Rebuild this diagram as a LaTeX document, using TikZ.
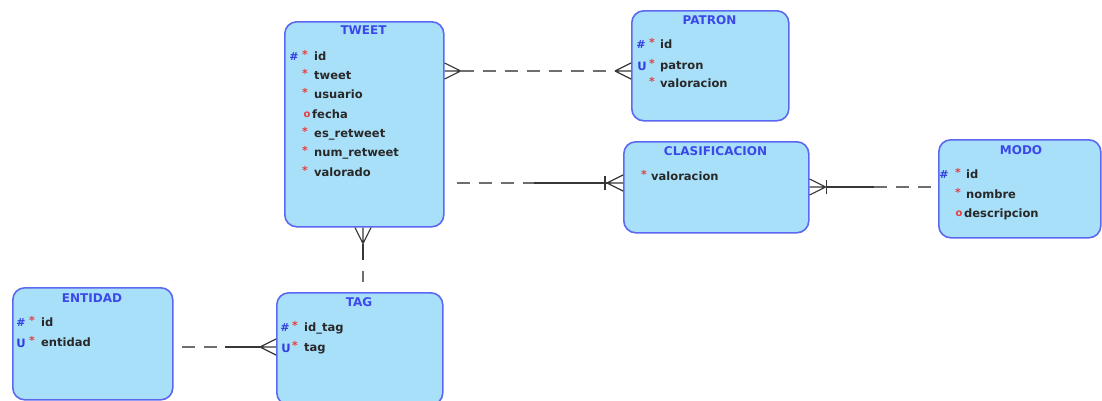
\documentclass[tikz,border=0pt]{standalone}
\usepackage{fontspec}
\setmainfont{DejaVu Sans}
\usetikzlibrary{calc}
\definecolor{boxfill}{RGB}{168,224,250}
\definecolor{boxline}{RGB}{92,104,240}
\definecolor{titleblue}{RGB}{60,72,232}
\definecolor{attrtext}{RGB}{40,40,40}
\definecolor{markred}{RGB}{230,60,60}
\definecolor{markblue}{RGB}{50,60,225}
\definecolor{relgray}{RGB}{110,110,110}
\definecolor{reldark}{RGB}{55,55,55}

% crow's foot: #1 = point on the box edge, (#2,#3) = unit direction away from the box
\newcommand\crowfoot[3]{%
  \draw[footline] ($(#1)+({16*(#2)},{16*(#3)})$) -- ($(#1)+({8*(#3)},{-8*(#2)})$)
    ($(#1)+({16*(#2)},{16*(#3)})$) -- (#1)
    ($(#1)+({16*(#2)},{16*(#3)})$) -- ($(#1)+({-8*(#3)},{8*(#2)})$);}
% single bar across a line: #1 = point on the edge, #2 = distance, (#3,#4) = direction
\newcommand\onebar[4]{%
  \draw[footline] ($(#1)+({(#2)*(#3)+7*(#4)},{(#2)*(#4)-7*(#3)})$) --
    ($(#1)+({(#2)*(#3)-7*(#4)},{(#2)*(#4)+7*(#3)})$);}

\begin{document}
\begin{tikzpicture}[x=1pt,y=-1pt,
  entity/.style={draw=boxline, fill=boxfill, line width=1.6pt, rounded corners=12pt,
    anchor=north west, inner sep=0pt},
  etitle/.style={font=\bfseries\fontsize{12}{13}\selectfont, text=titleblue, inner sep=0pt},
  attr/.style={font=\bfseries\fontsize{11.5}{13}\selectfont, text=attrtext, anchor=west,
    inner sep=0pt, text height=8.5pt, text depth=2.5pt},
  pk/.style={font=\bfseries\fontsize{11}{12}\selectfont, text=markblue, inner sep=0pt},
  uk/.style={font=\bfseries\fontsize{11.5}{12}\selectfont, text=markblue, inner sep=0pt},
  req/.style={font=\bfseries\fontsize{11}{12}\selectfont, text=markred, inner sep=0pt, yshift=2.5pt},
  opt/.style={font=\bfseries\fontsize{10}{12}\selectfont, text=markred, inner sep=0pt},
  reldash/.style={draw=relgray, line width=1.5pt, dash pattern=on 13pt off 9pt},
  relsolid/.style={draw=reldark, line width=1.3pt},
  footline/.style={draw=reldark, line width=1.2pt}]
\useasboundingbox (0,0) rectangle (1102,400);
\clip (0,0) rectangle (1102,400);

% ---------- entities ----------
\node[entity, minimum width=159pt, minimum height=205pt] (tweet) at (284,21) {};
\node[entity, minimum width=157pt, minimum height=110pt] (patron) at (631,10) {};
\node[entity, minimum width=185pt, minimum height=91pt] (clas) at (623,141) {};
\node[entity, minimum width=162pt, minimum height=98pt] (modo) at (938,139) {};
\node[entity, minimum width=160pt, minimum height=112pt] (entidad) at (12,287) {};
\node[entity, minimum width=166pt, minimum height=112pt] (tag) at (276,292) {};

% ---------- TWEET ----------
\node[etitle] (tweetT) at (363.5,30) {TWEET};
\node[pk]  (tw1p) at (294,57) {\#};
\node[req] (tw1r) at (305,57) {*};
\node[attr] (tw1) at (314,57) {id};
\node[req] (tw2r) at (305,76) {*};
\node[attr] (tw2) at (314,76) {tweet};
\node[req] (tw3r) at (305,95) {*};
\node[attr] (tw3) at (314,95) {usuario};
\node[opt] (tw4o) at (307,115) {o};
\node[attr] (tw4) at (312,115) {fecha};
\node[req] (tw5r) at (305,134) {*};
\node[attr] (tw5) at (314,134) {es\_retweet};
\node[req] (tw6r) at (305,153) {*};
\node[attr] (tw6) at (314,153) {num\_retweet};
\node[req] (tw7r) at (305,173) {*};
\node[attr] (tw7) at (314,173) {valorado};

% ---------- PATRON ----------
\node[etitle] (patronT) at (709.5,20) {PATRON};
\node[pk]  (pa1p) at (641,45) {\#};
\node[req] (pa1r) at (652,45) {*};
\node[attr] (pa1) at (660,45) {id};
\node[uk]  (pa2u) at (642,66) {U};
\node[req] (pa2r) at (652,66) {*};
\node[attr] (pa2) at (660,66) {patron};
\node[req] (pa3r) at (652,84) {*};
\node[attr] (pa3) at (660,84) {valoracion};

% ---------- CLASIFICACION ----------
\node[etitle] (clasT) at (715.5,151) {CLASIFICACION};
\node[req] (cl1r) at (644,177) {*};
\node[attr] (cl1) at (651,177) {valoracion};

% ---------- MODO ----------
\node[etitle] (modoT) at (1021,150) {MODO};
\node[pk]  (mo1p) at (944,175) {\#};
\node[req] (mo1r) at (958,175) {*};
\node[attr] (mo1) at (966,175) {id};
\node[req] (mo2r) at (958,195) {*};
\node[attr] (mo2) at (966,195) {nombre};
\node[opt] (mo3o) at (959,214) {o};
\node[attr] (mo3) at (964,214) {descripcion};

% ---------- ENTIDAD ----------
\node[etitle] (entidadT) at (92,298) {ENTIDAD};
\node[pk]  (en1p) at (21,323) {\#};
\node[req] (en1r) at (32,323) {*};
\node[attr] (en1) at (41,323) {id};
\node[uk]  (en2u) at (21,343) {U};
\node[req] (en2r) at (32,343) {*};
\node[attr] (en2) at (41,343) {entidad};

% ---------- TAG ----------
\node[etitle] (tagT) at (359,302) {TAG};
\node[pk]  (ta1p) at (285,328) {\#};
\node[req] (ta1r) at (295,328) {*};
\node[attr] (ta1) at (304,328) {id\_tag};
\node[uk]  (ta2u) at (286,348) {U};
\node[req] (ta2r) at (295,348) {*};
\node[attr] (ta2) at (304,348) {tag};

% ---------- relationships ----------
% TWEET >-----< PATRON (both optional)
\coordinate (tpA) at (tweet.east |- 0,71);
\coordinate (tpB) at (patron.west |- 0,71);
\draw[reldash] ($(tpA)+(16,0)$) -- ($(tpB)+(-16,0)$);
\crowfoot{tpA}{1}{0}
\crowfoot{tpB}{-1}{0}

% TWEET - - - -|< CLASIFICACION
\coordinate (tcA) at (tweet.east |- 0,183);
\coordinate (tcB) at (clas.west |- 0,183);
\coordinate (tcM) at ($(tcA)!0.5!(tcB)$);
\draw[reldash] ($(tcA)+(12,0)$) -- (tcM);
\draw[relsolid] (tcM) -- ($(tcB)+(-16,0)$);
\crowfoot{tcB}{-1}{0}
\onebar{tcB}{18}{-1}{0}

% CLASIFICACION >|- - - - MODO
\coordinate (cmA) at (clas.east |- 0,187);
\coordinate (cmB) at (modo.west |- 0,187);
\coordinate (cmM) at ($(cmA)!0.5!(cmB)$);
\draw[relsolid] ($(cmA)+(16,0)$) -- (cmM);
\draw[reldash] (cmM) -- ($(cmB)+(-3,0)$);
\crowfoot{cmA}{1}{0}
\onebar{cmA}{17}{1}{0}

% TWEET >- - - TAG (vertical)
\coordinate (ttA) at (363,0 |- tweet.south);
\coordinate (ttB) at (363,0 |- tag.north);
\coordinate (ttM) at ($(ttA)!0.5!(ttB)$);
\draw[relsolid] ($(ttA)+(0,16)$) -- (ttM);
\draw[reldash] ($(ttM)+(0,11)$) -- ($(ttB)+(0,-10)$);
\crowfoot{ttA}{0}{1}

% ENTIDAD - - - -< TAG
\coordinate (etA) at (entidad.east |- 0,347);
\coordinate (etB) at (tag.west |- 0,347);
\coordinate (etM) at ($(etA)!0.5!(etB)$);
\draw[reldash] ($(etA)+(8,0)$) -- (etM);
\draw[relsolid] (etM) -- ($(etB)+(-16,0)$);
\crowfoot{etB}{-1}{0}
\end{tikzpicture}
\end{document}
